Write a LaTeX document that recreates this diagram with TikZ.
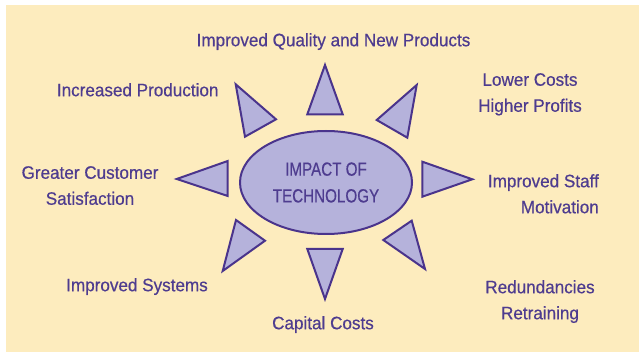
\documentclass[tikz,border=0pt]{standalone}
\usepackage{fontspec}
\setmainfont{Liberation Sans}[FakeStretch=0.95, FakeBold=0.5]
\newfontfamily\hubfont{Liberation Sans}[FakeStretch=0.8, FakeBold=0.5]
\usetikzlibrary{shapes.geometric}
\definecolor{paper}{RGB}{253,236,190}
\definecolor{lav}{RGB}{181,178,219}
\definecolor{ink}{RGB}{74,52,140}
\definecolor{inktext}{RGB}{78,60,143}
\begin{document}
\begin{tikzpicture}[x=1pt,y=-1pt,
  ray/.style={draw=ink, fill=lav, line width=2pt, line join=miter},
  effect/.style={text=inktext, font=\fontsize{18}{26}\selectfont, align=center, inner sep=0pt, anchor=north},
  hubstyle/.style={ellipse, draw=ink, fill=lav, line width=2pt, minimum width=172pt, minimum height=103pt, inner sep=0pt,
    text=inktext, align=center, font=\hubfont\fontsize{19}{26.7}\selectfont}]
\useasboundingbox (0,0) rectangle (639,352);
\fill[paper] (6,5) rectangle (639,352);

% central ellipse
\node[hubstyle] (hub) at (326,182.5) {IMPACT OF\\TECHNOLOGY};

% rays around the ellipse
\draw[ray] (325,65) -- (342.7,114.3) -- (307.3,114.3) -- cycle;          % top
\draw[ray] (416.7,85) -- (407.3,137.7) -- (376.7,120) -- cycle;          % upper right
\draw[ray] (472.3,179.3) -- (422.3,196.7) -- (422.3,161.7) -- cycle;     % right
\draw[ray] (425,269) -- (383.3,240) -- (411.7,220.7) -- cycle;           % lower right
\draw[ray] (325,299) -- (307.3,249) -- (342.7,249) -- cycle;             % bottom
\draw[ray] (222.7,271) -- (236,220) -- (265,240.7) -- cycle;             % lower left
\draw[ray] (176.7,179) -- (227.7,161) -- (227.7,196) -- cycle;           % left
\draw[ray] (235.7,84.3) -- (276,119.3) -- (245,136.7) -- cycle;          % upper left

% effects
\node[effect] (quality) at (333.5,33) {Improved Quality and New Products};
\node[effect] (profits) at (530,73) {Lower Costs\\Higher Profits};
\node[effect, align=right, anchor=north east] (staff) at (599,174) {Improved Staff\\Motivation};
\node[effect] (redund) at (540,280) {Redundancies\\Retraining};
\node[effect] (capital) at (323,316) {Capital Costs};
\node[effect] (systems) at (137,278) {Improved Systems};
\node[effect] (customer) at (90,166) {Greater Customer\\Satisfaction};
\node[effect] (production) at (137.7,83) {Increased Production};
\end{tikzpicture}
\end{document}
